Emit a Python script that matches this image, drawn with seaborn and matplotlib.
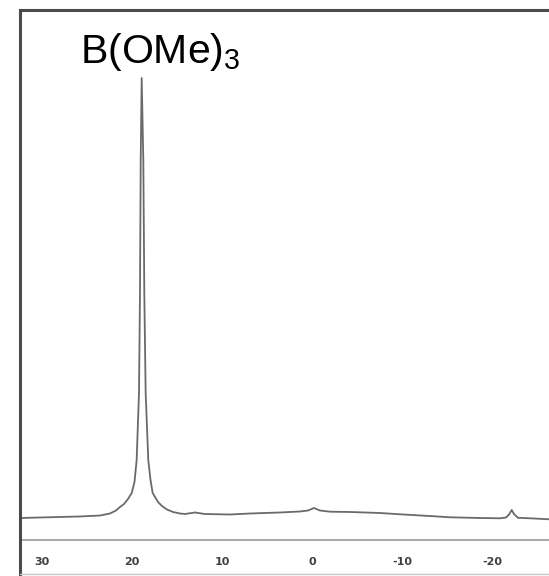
import matplotlib
matplotlib.use("Agg")
import matplotlib.pyplot as plt
from matplotlib.lines import Line2D
from matplotlib.ticker import FixedLocator, MultipleLocator
import seaborn as sns
import pandas as pd

# 11B NMR trace of trimethyl borate: chemical shift (ppm) and intensity (a.u.)
shift_ppm = [32.44, 30.22, 28.0, 25.78, 23.56, 22.44, 21.78, 21.33, 20.89, 20.44,
             20.03, 19.72, 19.48, 19.22, 19.11, 19.03, 18.92, 18.74, 18.63, 18.48,
             18.19, 17.94, 17.70, 17.44, 17.11, 16.67, 16.11, 15.44, 14.67, 14.11,
             13.0, 11.89, 9.11, 6.89, 3.56, 1.33, 0.44, -0.22, -0.89, -2.0,
             -4.22, -7.56, -9.78, -13.11, -15.33, -18.67, -20.89, -21.56, -21.89, -22.19,
             -22.44, -22.89, -24.22, -26.33]
intensity = [-0.64, -0.54, -0.44, -0.34, -0.15, 0.25, 0.84, 1.54, 2.13, 3.12,
             4.31, 6.49, 10.85, 24.12, 43.93, 70.28, 86.52, 70.28, 43.93, 24.12,
             10.85, 6.89, 4.31, 3.52, 2.53, 1.74, 1.04, 0.55, 0.25, 0.15,
             0.45, 0.15, 0.05, 0.25, 0.45, 0.65, 0.84, 1.34, 0.84, 0.61,
             0.55, 0.35, 0.09, -0.25, -0.50, -0.64, -0.70, -0.54, 0.05, 0.94,
             0.15, -0.60, -0.70, -0.90]

major_ticks = [30, 20, 10, 0, -10, -20]
tick_labels = ["30", "20", "10", "0", "-10", "-20"]
compound = r"B(OMe)$_3$"

df = pd.DataFrame({"ppm": shift_ppm, "intensity": intensity})

sns.set_style("white")
plt.rcParams["font.family"] = ["Liberation Sans", "DejaVu Sans"]
plt.rcParams["mathtext.fontset"] = "custom"
plt.rcParams["mathtext.rm"] = "Liberation Sans"
plt.rcParams["mathtext.it"] = "Liberation Sans"
plt.rcParams["axes.unicode_minus"] = False

W, H = 549, 576
fig = plt.figure(figsize=(W / 100, H / 100), dpi=100)
fig.patch.set_facecolor("white")

# plotting area: from the left frame to the right edge, axis line near the bottom
ax = fig.add_axes([20 / W, 36 / H, 1 - 20 / W, 530 / H])
ax.set_facecolor("white")

sns.lineplot(data=df, x="ppm", y="intensity", ax=ax, color="#6a6a6a",
             linewidth=1.3, estimator=None, sort=False)

ax.set_xlim(32.44, -26.33)
ax.set_ylim(-5, 100)
ax.set_xlabel("")
ax.set_ylabel("")
ax.set_yticks([])

for side in ["left", "right", "top"]:
    ax.spines[side].set_visible(False)
ax.spines["bottom"].set_color("#9a9a9a")
ax.spines["bottom"].set_linewidth(1.2)

ax.xaxis.set_major_locator(FixedLocator(major_ticks))
ax.set_xticklabels(tick_labels)
ax.xaxis.set_minor_locator(MultipleLocator(2))
ax.tick_params(axis="x", which="major", direction="out", length=6, width=1.0,
               color="#8a8a8a", pad=6.5, labelsize=8, labelcolor="#404040")
ax.tick_params(axis="x", which="minor", direction="out", length=3.5, width=0.9,
               color="#9a9a9a")
for lab in ax.get_xticklabels():
    lab.set_fontweight("bold")
    lab.set_family("DejaVu Sans")

# compound label
fig.text(80 / W, 1 - 63 / H, compound, fontsize=29.5, color="black",
         ha="left", va="baseline")

# outer frame: left and top borders, faint bottom edge
fig.add_artist(Line2D([20 / W, 20 / W], [0, 1 - 10 / H], transform=fig.transFigure,
                      color="#4a4a4a", linewidth=2.2, solid_capstyle="projecting"))
fig.add_artist(Line2D([20 / W, 1], [1 - 10 / H, 1 - 10 / H], transform=fig.transFigure,
                      color="#4a4a4a", linewidth=2.2, solid_capstyle="projecting"))
fig.add_artist(Line2D([20 / W, 1], [2 / H, 2 / H], transform=fig.transFigure,
                      color="#c8c8c8", linewidth=1.0))

fig.savefig("out.png", dpi=100, facecolor="white")
